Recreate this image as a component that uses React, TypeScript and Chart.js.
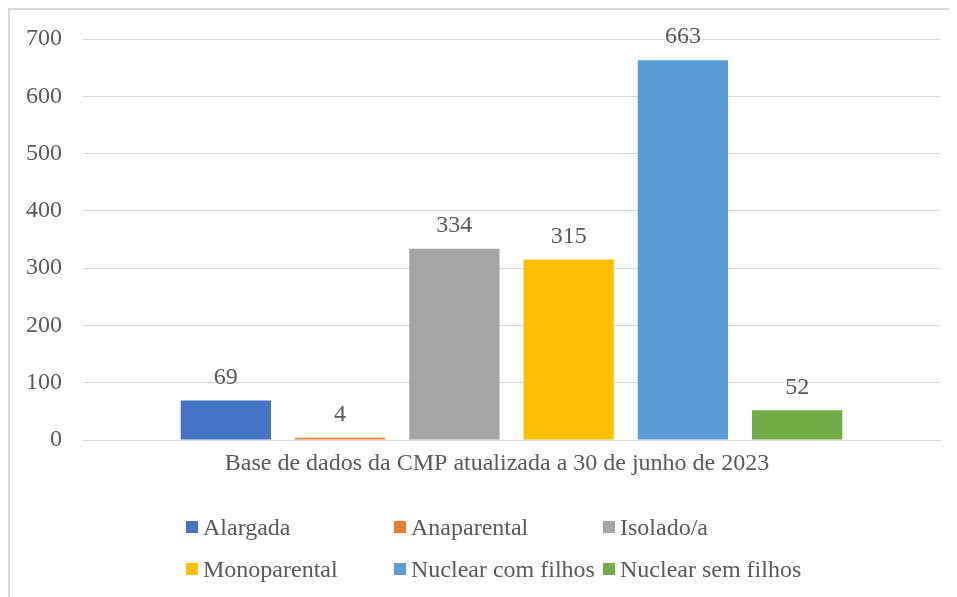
import React, { useEffect, useRef } from "react";
import { Chart, registerables } from "chart.js";

Chart.register(...registerables);

const categories = ["Base de dados da CMP atualizada a 30 de junho de 2023"];
const seriesNames = ["Alargada", "Anaparental", "Isolado/a", "Monoparental", "Nuclear com filhos", "Nuclear sem filhos"];
const seriesValues = [69, 4, 334, 315, 663, 52];
const seriesColors = ["#4472C4", "#ED7D31", "#A5A5A5", "#FFC000", "#5B9BD5", "#70AD47"];
const yTicks = [0, 100, 200, 300, 400, 500, 600, 700];

const FONT = "'Liberation Serif', 'Times New Roman', serif";
const FONT_SIZE = 24;
const TEXT = "#595959";

const valueLabels = {
  id: "valueLabels",
  afterDatasetsDraw(chart: any) {
    const ctx = chart.ctx;
    ctx.save();
    ctx.font = `${FONT_SIZE}px ${FONT}`;
    ctx.fillStyle = TEXT;
    ctx.textAlign = "center";
    ctx.textBaseline = "middle";
    chart.data.datasets.forEach((ds: any, i: number) => {
      const meta = chart.getDatasetMeta(i);
      meta.data.forEach((bar: any, j: number) => {
        ctx.fillText(String(ds.data[j]), bar.x, bar.y - 23);
      });
    });
    ctx.restore();
  },
};

export default function App() {
  const ref = useRef<HTMLCanvasElement>(null);
  useEffect(() => {
    if (!ref.current) return;
    const chart = new Chart(ref.current, {
      type: "bar",
      data: {
        labels: categories,
        datasets: seriesNames.map((name, i) => ({
          label: name,
          data: [seriesValues[i]],
          backgroundColor: seriesColors[i],
          borderWidth: 0,
          categoryPercentage: 0.8,
          barPercentage: 0.79,
        })),
      },
      options: {
        animation: false,
        responsive: false,
        devicePixelRatio: 1,
        layout: { padding: { top: 29, right: 17, left: 0, bottom: 0 } },
        plugins: { legend: { display: false }, tooltip: { enabled: false } },
        scales: {
          x: {
            grid: { display: false, drawTicks: false },
            border: { display: true, color: "#D9D9D9", width: 1 },
            ticks: { color: TEXT, font: { family: FONT, size: FONT_SIZE }, padding: 9, maxRotation: 0, labelOffset: -14.5 },
            afterFit: (s: any) => { s.height = 157; s.paddingLeft = 0; s.paddingRight = 0; },
          },
          y: {
            min: 0,
            max: 700,
            afterBuildTicks: (s: any) => { s.ticks = yTicks.map((v) => ({ value: v })); },
            grid: { color: "#D9D9D9", lineWidth: 1, drawTicks: false },
            border: { display: false },
            ticks: { color: TEXT, font: { family: FONT, size: FONT_SIZE }, padding: 21 },
            afterFit: (s: any) => { s.width = 73; s.paddingTop = 0; s.paddingBottom = 0; },
          },
        },
      },
      plugins: [valueLabels],
    });
    return () => chart.destroy();
  }, []);

  const cols = [186, 394, 603];
  const rows = [527, 569];

  return (
    <div style={{ position: "relative", width: 949, height: 589, borderLeft: "2px solid #D9D9D9", borderTop: "2px solid #D9D9D9", boxSizing: "border-box", background: "#fff" }}>
      <canvas ref={ref} width={947} height={587} style={{ display: "block" }} />
      {seriesNames.map((name, i) => (
        <div
          key={name}
          style={{
            position: "absolute",
            left: cols[i % 3] - 10,
            top: rows[Math.floor(i / 3)] - 10 - 15,
            height: 30,
            display: "flex",
            alignItems: "center",
            font: `${FONT_SIZE}px ${FONT}`,
            color: TEXT,
            whiteSpace: "nowrap",
          }}
        >
          <span style={{ display: "inline-block", width: 12, height: 12, background: seriesColors[i], marginRight: 5 }} />
          <span>{name}</span>
        </div>
      ))}
    </div>
  );
}
